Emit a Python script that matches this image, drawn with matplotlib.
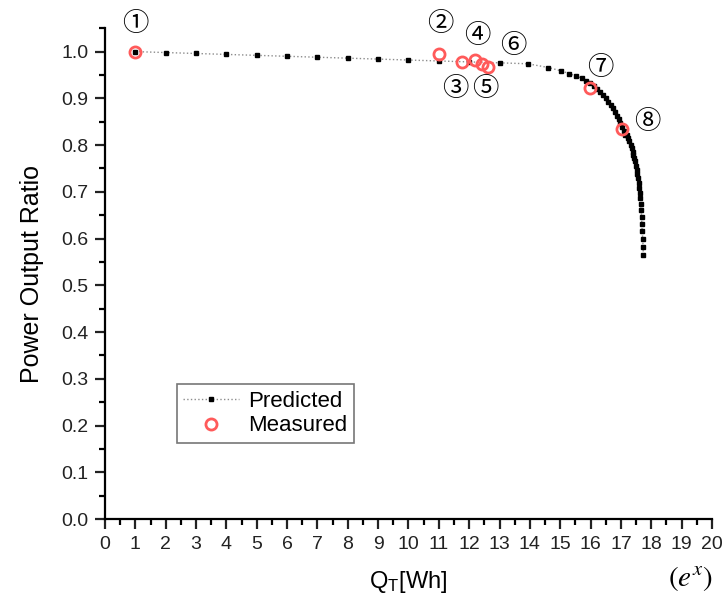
import matplotlib
matplotlib.use('Agg')
import matplotlib.pyplot as plt
from matplotlib.ticker import MultipleLocator, FormatStrFormatter

# predicted curve
pred_x = [1, 2, 3, 4, 5, 6, 7, 8, 9, 10, 11, 12, 13, 13.93, 14.61, 15.02,
          15.30, 15.52, 15.71, 15.85, 15.98, 16.10, 16.21, 16.31, 16.41,
          16.50, 16.58, 16.66, 16.73, 16.80, 16.87, 16.93, 16.98, 17.04,
          17.09, 17.14, 17.19, 17.24, 17.27, 17.32, 17.35, 17.39, 17.41,
          17.44, 17.46, 17.49, 17.52, 17.54, 17.57, 17.59, 17.60, 17.63,
          17.64, 17.65, 17.67, 17.68, 17.69, 17.70, 17.72, 17.73, 17.74]
pred_y = [1.000, 0.998, 0.996, 0.994, 0.992, 0.990, 0.988, 0.986, 0.984,
          0.982, 0.980, 0.978, 0.976, 0.974, 0.966, 0.959, 0.953, 0.948,
          0.943, 0.938, 0.932, 0.926, 0.920, 0.913, 0.907, 0.900, 0.893,
          0.886, 0.879, 0.871, 0.863, 0.855, 0.847, 0.839, 0.830, 0.822,
          0.822, 0.815, 0.808, 0.800, 0.793, 0.786, 0.779, 0.772, 0.765,
          0.756, 0.747, 0.738, 0.729, 0.719, 0.708, 0.697, 0.686, 0.674,
          0.661, 0.647, 0.632, 0.617, 0.600, 0.583, 0.564]

# measured points
meas_x = [1.0, 11.0, 11.77, 12.19, 12.41, 12.63, 15.98, 17.05]
meas_y = [1.000, 0.995, 0.977, 0.983, 0.974, 0.968, 0.923, 0.835]

# circled labels
lab_text = ['①', '②', '③', '④', '⑤', '⑥', '⑦', '⑧']
lab_x = [1.0, 11.04, 11.53, 12.26, 12.52, 13.44, 16.31, 17.86]
lab_y = [1.060, 1.060, 0.921, 1.034, 0.921, 1.013, 0.966, 0.850]

plt.rcParams['font.family'] = ['Liberation Sans', 'DejaVu Sans']
plt.rcParams['mathtext.fontset'] = 'stix'

fig = plt.figure(figsize=(7.25, 6.01), dpi=100)
ax = fig.add_axes([0.1448, 0.1364, 0.8372, 0.8166])

ax.plot(pred_x, pred_y, linestyle=':', color='#8c8c8c', lw=1.0,
        marker='s', markersize=2.2, markerfacecolor='black',
        markeredgecolor='black', label='Predicted', zorder=2)
ax.plot(meas_x, meas_y, linestyle='none', marker='o', markersize=8,
        markerfacecolor='none', markeredgecolor='#ff5a5a',
        markeredgewidth=2, label='Measured', zorder=3)

for t, x, y in zip(lab_text, lab_x, lab_y):
    ax.text(x, y, t, fontsize=19, ha='center', va='center',
            family=['Noto Sans CJK JP', 'DejaVu Sans'])

ax.set_xlim(0, 20)
ax.set_ylim(0, 1.05)
ax.xaxis.set_major_locator(MultipleLocator(1))
ax.xaxis.set_minor_locator(MultipleLocator(0.5))
ax.yaxis.set_major_locator(MultipleLocator(0.1))
ax.yaxis.set_minor_locator(MultipleLocator(0.05))
ax.yaxis.set_major_formatter(FormatStrFormatter('%.1f'))

ax.spines['top'].set_visible(False)
ax.spines['right'].set_visible(False)
for s in ['left', 'bottom']:
    ax.spines[s].set_linewidth(1.6)
ax.tick_params(which='major', direction='out', length=7, width=1.6,
               labelsize=14, colors='#222222', pad=5)
ax.tick_params(which='minor', direction='out', length=4, width=1.6)

ax.set_xlabel('Q$_\\mathregular{T}$[Wh]', fontsize=17, labelpad=12)
ax.set_ylabel('Power Output Ratio', fontsize=18, labelpad=12)

fig.text(0.952, 0.038, '$(e^x)$', fontsize=21, ha='center', va='center')

leg = ax.legend(loc='lower left', bbox_to_anchor=(0.118, 0.155),
                fontsize=16, frameon=True, fancybox=False,
                edgecolor='#555555', handlelength=2.5, borderpad=0.3,
                borderaxespad=0, labelspacing=0.15, handletextpad=0.4)
leg.get_frame().set_linewidth(1.2)

fig.savefig('out.png', dpi=100)
